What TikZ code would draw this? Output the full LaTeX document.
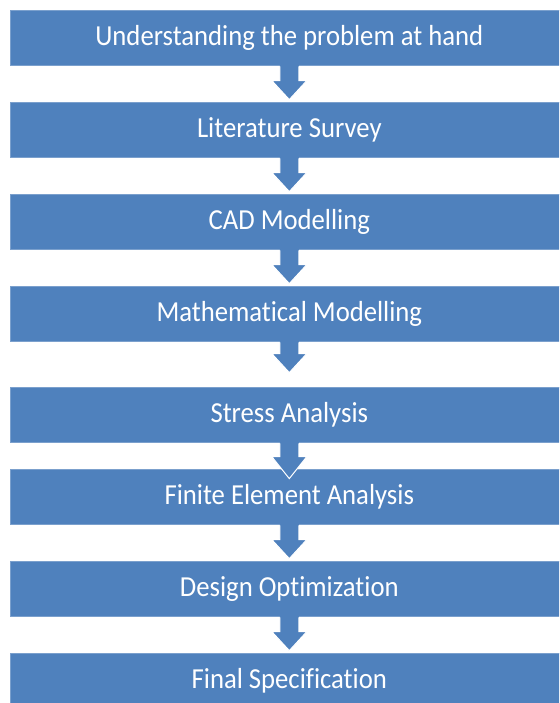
\documentclass[tikz,border=0pt]{standalone}
\usepackage{fontspec}
\setmainfont{Carlito}
\newfontfamily\stagefont[FakeStretch=0.92,Ligatures=NoCommon]{Carlito}
\definecolor{boxblue}{HTML}{4F81BD}
\tikzset{
  stage/.style={fill=boxblue, draw=boxblue!75!white, line width=0.6pt, text=white,
    minimum width=558pt, minimum height=55pt, inner sep=0pt, anchor=north west,
    font=\stagefont\fontsize{29}{33}\selectfont},
  arrowfill/.style={fill=boxblue},
  arrowline/.style={draw=white, line width=1pt, line join=miter}
}
\newcommand\stagearrow[3]{%
  \fill[arrowfill] (#1.south) ++(-9.5,-1) -- ++(0,#2+1) -- ++(-8,0) -- ++(17.5,#3) -- ++(17.5,-#3) -- ++(-8,0) -- ++(0,-#2-1) -- cycle;
  \draw[arrowline] (#1.south) ++(-9.5,0.8) -- ++(0,#2-0.8) -- ++(-8,0) -- ++(17.5,#3) -- ++(17.5,-#3) -- ++(-8,0) -- ++(0,-#2+0.8);
}
\begin{document}
\begin{tikzpicture}[x=1pt,y=-1pt]
\useasboundingbox (0,0) rectangle (559,703);
\clip (0,0) rectangle (559,703);
\node[stage] (s1) at (10,10) {Understanding the problem at hand};
\node[stage] (s2) at (10,102) {Literature Survey};
\node[stage] (s3) at (10,194) {CAD Modelling};
\node[stage] (s4) at (10,286) {Mathematical Modelling};
\node[stage] (s5) at (10,387) {Stress Analysis};
\node[stage] (s6) at (10,469) {Finite Element Analysis};
\node[stage] (s7) at (10,561) {Design Optimization};
\node[stage] (s8) at (10,653) {Final Specification};
\stagearrow{s1}{15}{19}
\stagearrow{s2}{15}{19}
\stagearrow{s3}{15}{19}
\stagearrow{s4}{12}{19}
\stagearrow{s5}{14}{22}
\stagearrow{s6}{15}{19}
\stagearrow{s7}{15}{19}
\end{tikzpicture}
\end{document}
